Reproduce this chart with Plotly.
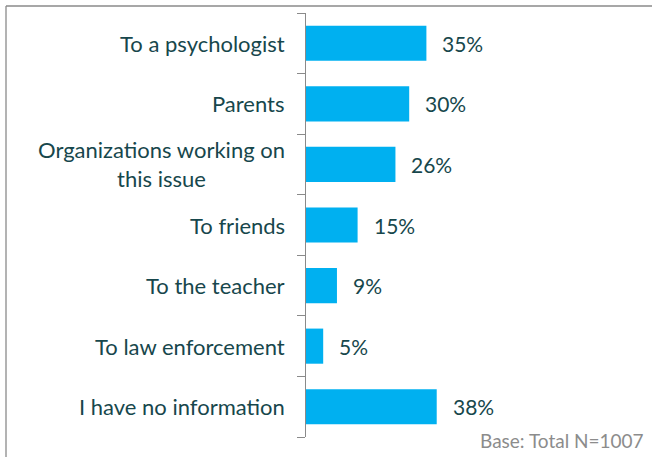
import plotly.graph_objects as go

categories = [
    "To a psychologist",
    "Parents",
    "Organizations working on<br>this issue",
    "To friends",
    "To the teacher",
    "To law enforcement",
    "I have no information",
]
values = [35, 30, 26, 15, 9, 5, 38]
value_labels = ["35%", "30%", "26%", "15%", "9%", "5%", "38%"]
note = "Base: Total N=1007"

W, H = 652, 457
L, R, T, B = 306, 2, 13, 20
TEXT = "#17474C"
AXIS = "#8A8A8A"
FONT = "Lato, 'Open Sans', sans-serif"

n = len(categories)
positions = list(range(n))
# category boundaries, where the axis tick marks sit
boundaries = [i - 0.5 for i in range(n + 1)]

fig = go.Figure(
    go.Bar(
        y=positions,
        x=values,
        orientation="h",
        marker=dict(color="#00B0F0", line=dict(width=0)),
        width=0.58,
        hoverinfo="skip",
    )
)
# empty trace so the tick axis is part of the subplot
fig.add_trace(go.Scatter(x=[], y=[], yaxis="y2", hoverinfo="skip"))

# value labels right of each bar
for p, v, lab in zip(positions, values, value_labels):
    fig.add_annotation(
        x=v, y=p, xref="x", yref="y", text=lab, showarrow=False,
        xanchor="left", yanchor="middle", xshift=14,
        font=dict(family=FONT, size=21, color=TEXT),
    )

# category labels left of the axis (multi-line labels centred within their block)
for p, cat in zip(positions, categories):
    fig.add_annotation(
        x=0, y=p, xref="paper", yref="y", text=cat, showarrow=False,
        xanchor="right", yanchor="middle", xshift=-19, align="center",
        font=dict(family=FONT, size=22, color=TEXT),
    )

fig.add_annotation(
    x=1, y=0, xref="paper", yref="paper", text=note, showarrow=False,
    xanchor="right", yanchor="middle", xshift=-4, yshift=-3,
    font=dict(family=FONT, size=19, color="#8C8C8C"),
)

pw = W - L - R
ph = H - T - B
x_left = (6 - L) / pw
y_top = 1 + (T - 6) / ph
fig.add_shape(type="line", xref="paper", yref="paper", x0=x_left, x1=(W - L) / pw,
              y0=y_top, y1=y_top, line=dict(color=AXIS, width=1.3))
fig.add_shape(type="line", xref="paper", yref="paper", x0=x_left, x1=x_left,
              y0=y_top, y1=-(B + 2) / ph, line=dict(color=AXIS, width=1.3))

yrange = [n - 0.5, -0.5]
fig.update_layout(
    width=W, height=H,
    margin=dict(l=L, r=R, t=T, b=B),
    paper_bgcolor="white", plot_bgcolor="white",
    showlegend=False,
    xaxis=dict(range=[0, 100], visible=False, fixedrange=True),
    yaxis=dict(range=yrange, visible=False, fixedrange=True),
    yaxis2=dict(
        range=yrange, overlaying="y", side="left", anchor="x",
        tickmode="array", tickvals=boundaries, showticklabels=False,
        ticks="outside", ticklen=8, tickcolor=AXIS, tickwidth=1.3,
        showline=True, linecolor=AXIS, linewidth=1.3,
        showgrid=False, zeroline=False, fixedrange=True,
    ),
)

fig.write_html("out.html")
